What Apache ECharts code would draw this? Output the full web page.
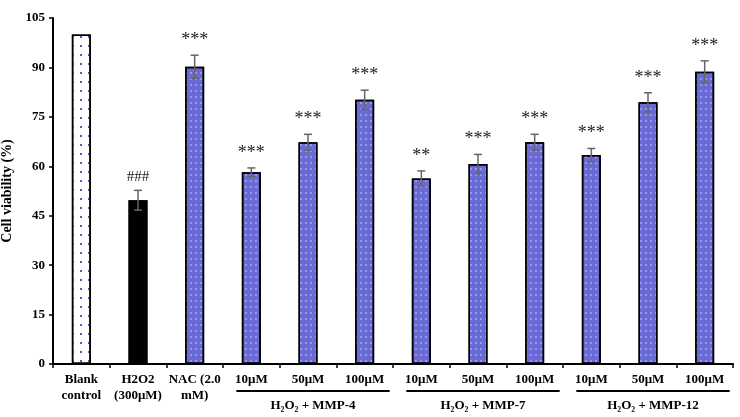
<!DOCTYPE html>
<html><head><meta charset="utf-8">
<script src="https://cdn.jsdelivr.net/npm/echarts@6/dist/echarts.min.js"></script>
<style>html,body{margin:0;padding:0;background:#fff}#c{width:740px;height:417px}</style>
</head><body><div id="c"></div>
<script>
const categories = ['Blank\ncontrol','H2O2\n(300μM)','NAC (2.0\nmM)','10μM','50μM','100μM','10μM','50μM','100μM','10μM','50μM','100μM'];
const values = [100, 49.7, 90.2, 58.2, 67.3, 80.2, 56.3, 60.7, 67.3, 63.4, 79.4, 88.7];
const errors = [0, 3.0, 3.5, 1.3, 2.4, 2.9, 2.3, 2.9, 2.4, 2.0, 2.9, 3.3];
const marks = ['', '###', '***', '***', '***', '***', '**', '***', '***', '***', '***', '***'];
const groupNames = ['H\u2082O\u2082 + MMP-4', 'H\u2082O\u2082 + MMP-7', 'H\u2082O\u2082 + MMP-12'];
const groupStart = [3, 6, 9];
const groupEnd = [5, 8, 11];
const yTicks = [0, 15, 30, 45, 60, 75, 90, 105];

const FONT = "'Liberation Serif', 'Times New Roman', serif";
const chart = echarts.init(document.getElementById('c'));

const blueStyle = {
  color: '#6a6ad6', borderColor: '#000', borderWidth: 1.5,
  decal: { symbol: 'rect', symbolSize: 0.7, color: 'rgba(255,255,255,0.6)', dashArrayX: [2, 3], dashArrayY: [2, 4], rotation: 0 }
};
const barData = values.map((v, i) => {
  if (i === 0) return { value: v, itemStyle: { color: '#fff', borderColor: '#000', borderWidth: 1.5,
    decal: { symbol: 'rect', symbolSize: 1, color: '#5a5aa8', dashArrayX: [1.5, 6], dashArrayY: [1.5, 7] } } };
  if (i === 1) return { value: v, itemStyle: { color: '#000', borderColor: '#000', borderWidth: 1.5, decal: { symbol: 'none' } } };
  return { value: v, itemStyle: blueStyle };
});

chart.setOption({
  animation: false,
  grid: { left: 53, right: 7, top: 18, bottom: 53, containLabel: false, outerBoundsMode: 'none' },
  xAxis: {
    type: 'category', data: categories,
    axisLine: { lineStyle: { color: '#000', width: 2 } },
    axisTick: { show: true, length: 4, lineStyle: { color: '#000', width: 1.5 } },
    axisLabel: { color: '#000', fontFamily: FONT, fontWeight: 'bold', fontSize: 13, margin: 8, lineHeight: 16, interval: 0 }
  },
  yAxis: {
    type: 'value', min: 0, max: 105, interval: 15,
    name: 'Cell viability (%)', nameLocation: 'middle', nameGap: 37,
    nameTextStyle: { color: '#000', fontFamily: FONT, fontWeight: 'bold', fontSize: 14 },
    axisLine: { show: true, lineStyle: { color: '#000', width: 2 } },
    axisTick: { show: true, length: 4, lineStyle: { color: '#000', width: 1.5 } },
    splitLine: { show: false },
    axisLabel: { color: '#000', fontFamily: FONT, fontWeight: 'bold', fontSize: 13, margin: 8 }
  },
  series: [
    { type: 'bar', data: barData, barWidth: 19 },
    {
      type: 'custom', z: 10,
      data: values.map((v, i) => [i, v, errors[i]]),
      renderItem: function (params, api) {
        const i = api.value(0), v = api.value(1), e = api.value(2);
        const mark = marks[i];
        const top = api.coord([i, v + e]);
        const bot = api.coord([i, v - e]);
        const cw = 8;
        const children = [];
        if (e > 0) {
          children.push({ type: 'line', shape: { x1: top[0], y1: top[1], x2: bot[0], y2: bot[1] }, style: { stroke: '#666', lineWidth: 1.5 } });
          children.push({ type: 'line', shape: { x1: top[0] - cw / 2, y1: top[1], x2: top[0] + cw / 2, y2: top[1] }, style: { stroke: '#666', lineWidth: 1.5 } });
          children.push({ type: 'line', shape: { x1: bot[0] - cw / 2, y1: bot[1], x2: bot[0] + cw / 2, y2: bot[1] }, style: { stroke: '#666', lineWidth: 1.5 } });
        }
        if (mark) {
          children.push({ type: 'text', style: { text: mark, x: top[0], y: top[1] - 6, align: 'center', verticalAlign: 'bottom',
            fill: '#222', font: (mark[0] === '#' ? 'normal 15px ' : 'normal 18px ') + FONT } });
        }
        return { type: 'group', children: children };
      }
    }
  ]
});

function addGroups() {
  const g = [];
  for (let k = 0; k < groupNames.length; k++) {
    const a = chart.convertToPixel({ xAxisIndex: 0 }, groupStart[k]);
    const b = chart.convertToPixel({ xAxisIndex: 0 }, groupEnd[k]);
    const y0 = chart.convertToPixel({ yAxisIndex: 0 }, 0);
    g.push({ type: 'line', shape: { x1: a - 15, y1: y0 + 27, x2: b + 25, y2: y0 + 27 }, style: { stroke: '#000', lineWidth: 2 } });
    g.push({ type: 'text', style: { text: groupNames[k], x: (a + b) / 2 + 5, y: y0 + 42, align: 'center', verticalAlign: 'middle',
      fill: '#000', font: 'bold 13px ' + FONT } });
  }
  chart.setOption({ graphic: g });
}
addGroups();
</script></body></html>
